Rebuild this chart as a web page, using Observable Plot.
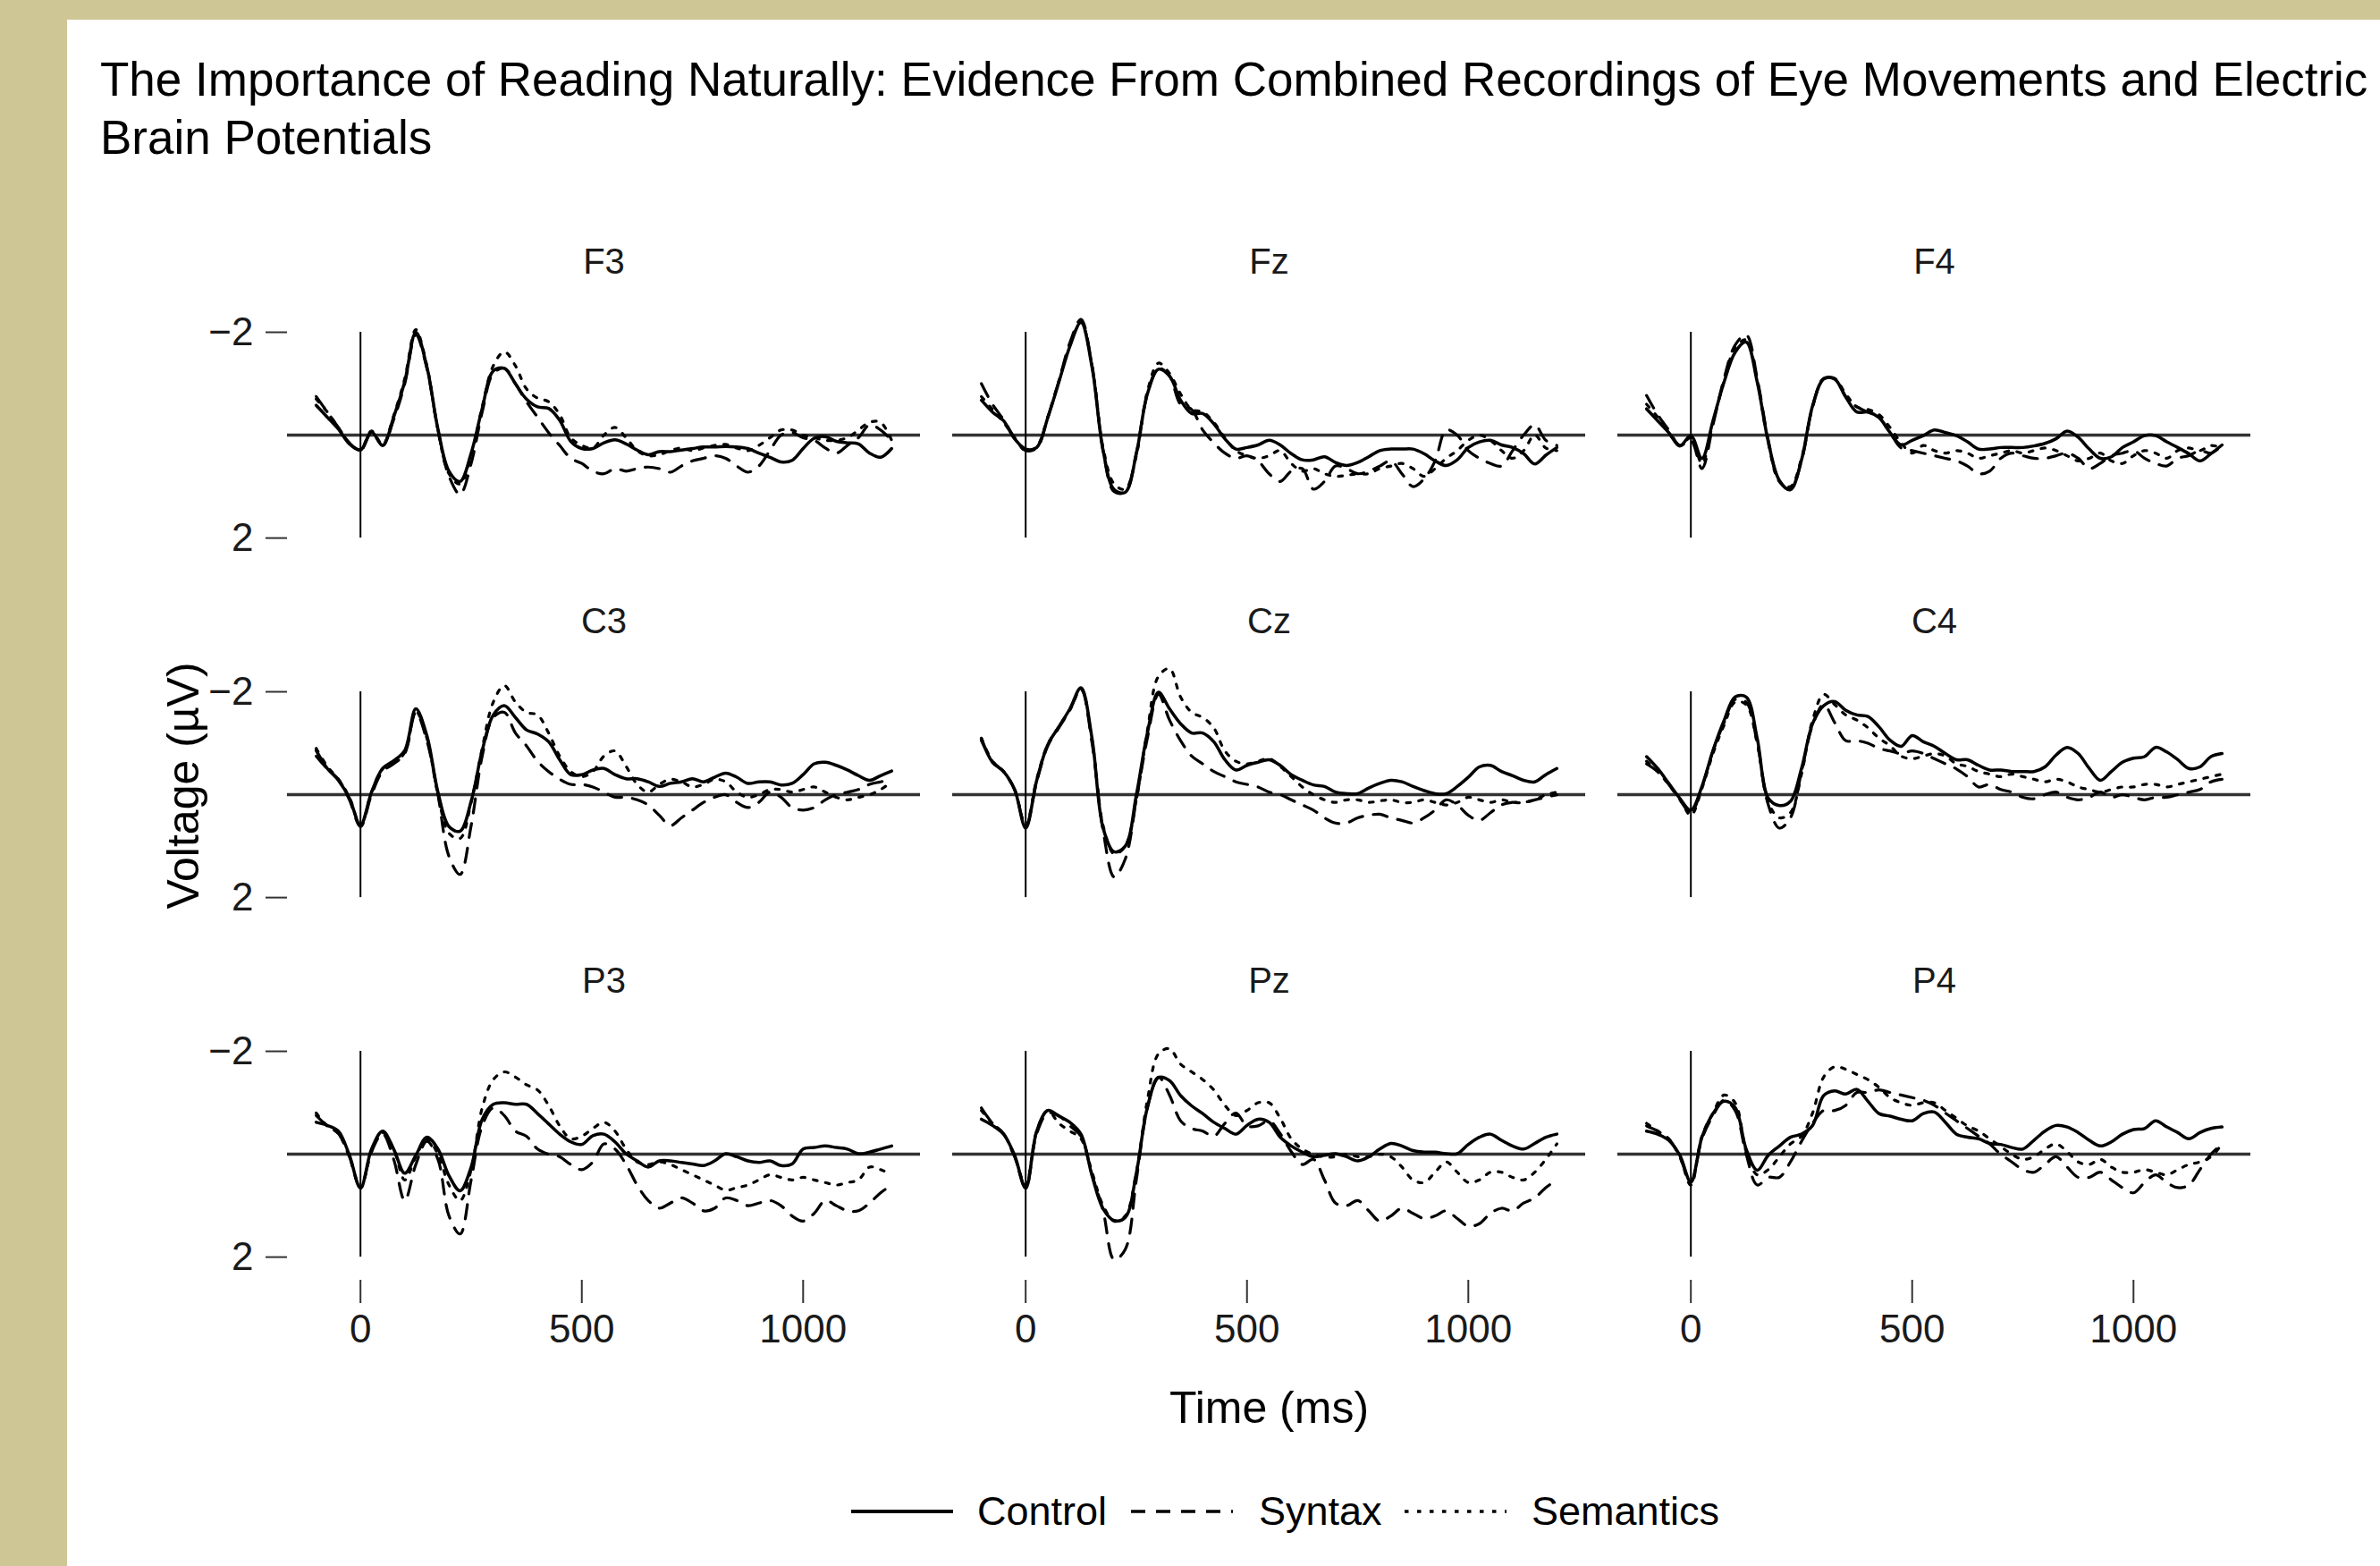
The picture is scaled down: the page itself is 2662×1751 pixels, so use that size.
<!DOCTYPE html>
<html><head><meta charset="utf-8">
<script src="https://cdn.jsdelivr.net/npm/d3@7"></script>
<script src="https://cdn.jsdelivr.net/npm/@observablehq/plot@0.6"></script>
<style>
html,body{margin:0;padding:0;}
body{width:2662px;height:1751px;background:#CFC696;position:relative;overflow:hidden;font-family:"Liberation Sans",Arial,Helvetica,sans-serif;}
#panel{position:absolute;left:75px;top:22px;right:0;bottom:0;background:#fff;}
#title{position:absolute;left:37px;top:34px;font-size:53px;line-height:65px;color:#000;white-space:nowrap;}
#chart{position:absolute;left:0;top:178px;}
#chart svg{max-width:none;overflow:visible;}
.lg{position:absolute;top:1638px;height:60px;line-height:60px;font-size:45px;color:#000;}
.lg svg{display:block;}
</style></head>
<body>
<div id="panel">
  <div id="title">The Importance of Reading Naturally: Evidence From Combined Recordings of Eye Movements and Electric<br>Brain Potentials</div>
  <div id="chart"></div>
  <div class="lg" style="left:877px;"><svg width="114" height="60"><line x1="0" y1="30" x2="114" y2="30" stroke="#000" stroke-width="4"/></svg></div>
  <div class="lg" style="left:1018px;">Control</div>
  <div class="lg" style="left:1190px;"><svg width="114" height="60"><line x1="0" y1="30" x2="114" y2="30" stroke="#000" stroke-width="3.5" stroke-dasharray="16,12"/></svg></div>
  <div class="lg" style="left:1333px;">Syntax</div>
  <div class="lg" style="left:1496px;"><svg width="114" height="60"><line x1="0" y1="30" x2="114" y2="30" stroke="#000" stroke-width="3.5" stroke-dasharray="4.5,9.5"/></svg></div>
  <div class="lg" style="left:1638px;">Semantics</div>
</div>
<script>
// sampling times (ms)
const times = [-100,-75,-50,-25,0,25,50,75,100,125,150,175,200,225,250,275,300,325,350,375,400,425,450,475,500,525,550,575,600,625,650,675,700,725,750,775,800,825,850,875,900,925,950,975,1000,1025,1050,1075,1100,1125,1150,1175,1200];
const electrodes = ["F3","Fz","F4","C3","Cz","C4","P3","Pz","P4"];
const conditions = ["Control","Syntax","Semantics"];
const xTicks = [0, 500, 1000];
const yTicks = [-2, 2];

// voltages (µV), one value per sampling time
const F3_control = [-0.58,-0.35,-0.12,0.17,0.29,-0.06,0.2,-0.35,-1.04,-2.0,-1.33,-0.12,0.7,0.9,0.35,-0.52,-1.25,-1.3,-1.0,-0.7,-0.55,-0.52,-0.29,0.12,0.26,0.26,0.15,0.09,0.17,0.29,0.38,0.32,0.32,0.29,0.26,0.23,0.23,0.22,0.23,0.26,0.35,0.43,0.52,0.49,0.26,0.06,0.03,0.12,0.15,0.17,0.35,0.43,0.26];
const F3_syntax = [-0.75,-0.45,-0.15,0.15,0.3,-0.05,0.2,-0.3,-1.0,-1.95,-1.3,-0.1,0.8,1.15,0.55,-0.45,-1.2,-1.3,-1.0,-0.65,-0.35,-0.05,0.2,0.45,0.55,0.7,0.75,0.65,0.7,0.65,0.62,0.65,0.72,0.6,0.5,0.45,0.4,0.45,0.6,0.72,0.6,0.3,0.0,-0.05,0.05,0.1,0.25,0.35,0.2,0.05,-0.2,-0.1,0.1];
const F3_semantics = [-0.7,-0.45,-0.15,0.15,0.28,-0.08,0.18,-0.38,-1.1,-2.05,-1.35,-0.1,0.75,0.95,0.4,-0.55,-1.35,-1.62,-1.35,-0.9,-0.72,-0.65,-0.4,0.05,0.2,0.25,0.0,-0.15,0.05,0.3,0.4,0.38,0.3,0.25,0.3,0.25,0.2,0.18,0.25,0.3,0.2,0.05,-0.1,-0.1,0.0,0.05,0.1,0.1,0.05,-0.1,-0.25,-0.25,0.1];

const Fz_control = [-0.68,-0.45,-0.28,0.07,0.27,0.24,-0.34,-1.03,-1.73,-2.19,-1.32,0.3,1.06,1.11,0.36,-0.8,-1.28,-1.15,-0.68,-0.42,-0.42,-0.22,0.07,0.27,0.24,0.19,0.1,0.19,0.36,0.48,0.48,0.42,0.53,0.59,0.53,0.42,0.3,0.27,0.27,0.27,0.36,0.5,0.59,0.48,0.24,0.13,0.1,0.19,0.24,0.36,0.56,0.39,0.24];
const Fz_syntax = [-1.0,-0.6,-0.3,0.05,0.3,0.25,-0.35,-1.05,-1.8,-2.25,-1.35,0.3,1.1,1.1,0.35,-0.8,-1.3,-1.15,-0.6,-0.5,-0.1,0.15,0.35,0.45,0.4,0.5,0.75,0.9,0.7,0.65,1.05,0.9,0.6,0.65,0.75,0.7,0.6,0.5,0.75,1.0,0.85,0.5,-0.1,0.0,0.3,0.45,0.55,0.6,0.3,0.0,-0.2,0.1,0.2];
const Fz_semantics = [-0.75,-0.5,-0.25,0.05,0.3,0.22,-0.35,-1.05,-1.75,-2.2,-1.35,0.25,0.95,1.05,0.4,-0.85,-1.4,-1.2,-0.8,-0.5,-0.45,-0.25,0.05,0.3,0.4,0.45,0.4,0.3,0.55,0.7,0.65,0.75,0.8,0.78,0.75,0.75,0.65,0.6,0.55,0.65,0.8,0.65,0.45,0.3,0.1,0.0,0.1,0.3,0.45,0.3,0.0,0.25,0.3];

const F4_control = [-0.51,-0.28,-0.05,0.21,0.01,0.45,-0.28,-1.03,-1.61,-1.81,-1.03,0.13,0.88,1.06,0.48,-0.57,-1.09,-1.09,-0.74,-0.45,-0.45,-0.34,-0.05,0.19,0.1,0.01,-0.1,-0.05,0.01,0.13,0.27,0.27,0.24,0.24,0.24,0.21,0.16,0.07,-0.08,0.04,0.27,0.45,0.42,0.24,0.13,0.01,0.01,0.13,0.24,0.36,0.5,0.36,0.19];
const F4_syntax = [-0.77,-0.4,-0.1,0.2,0.1,0.65,-0.2,-1.1,-1.75,-1.95,-1.1,0.1,0.9,1.05,0.5,-0.55,-1.1,-1.1,-0.75,-0.55,-0.45,-0.35,-0.05,0.25,0.3,0.35,0.4,0.45,0.5,0.6,0.75,0.7,0.45,0.35,0.4,0.45,0.45,0.4,0.35,0.45,0.65,0.55,0.4,0.35,0.3,0.45,0.55,0.6,0.45,0.4,0.3,0.35,0.2];
const F4_semantics = [-0.6,-0.35,-0.05,0.2,0.05,0.55,-0.25,-1.05,-1.7,-1.85,-1.05,0.15,0.9,1.0,0.45,-0.55,-1.1,-1.1,-0.8,-0.55,-0.5,-0.4,-0.15,0.15,0.35,0.2,0.3,0.35,0.3,0.35,0.45,0.4,0.35,0.3,0.35,0.3,0.25,0.3,0.4,0.5,0.45,0.35,0.5,0.55,0.4,0.3,0.35,0.45,0.3,0.25,0.3,0.2,0.25];

const C3_control = [-0.86,-0.51,-0.28,0.07,0.59,-0.05,-0.51,-0.66,-0.86,-1.67,-1.15,-0.05,0.62,0.71,0.13,-0.86,-1.55,-1.73,-1.5,-1.26,-1.18,-1.03,-0.68,-0.39,-0.39,-0.48,-0.51,-0.39,-0.31,-0.31,-0.25,-0.16,-0.22,-0.25,-0.31,-0.25,-0.34,-0.42,-0.34,-0.22,-0.25,-0.25,-0.19,-0.22,-0.39,-0.6,-0.63,-0.57,-0.48,-0.37,-0.28,-0.37,-0.46];
const C3_syntax = [-0.75,-0.5,-0.3,0.1,0.62,0.0,-0.45,-0.6,-0.8,-1.6,-1.05,0.0,1.2,1.55,0.6,-0.75,-1.5,-1.6,-1.2,-0.95,-0.65,-0.45,-0.3,-0.2,-0.2,-0.15,-0.05,0.05,0.05,0.1,0.2,0.4,0.6,0.45,0.3,0.15,0.05,0.0,0.15,0.25,0.15,-0.05,0.05,0.25,0.3,0.25,0.1,0.0,-0.05,-0.1,-0.2,-0.25,-0.3];
const C3_semantics = [-0.9,-0.55,-0.3,0.05,0.6,-0.05,-0.5,-0.62,-0.82,-1.62,-1.1,0.0,0.75,0.85,0.15,-0.9,-1.8,-2.12,-1.8,-1.6,-1.55,-1.2,-0.75,-0.45,-0.35,-0.45,-0.75,-0.85,-0.55,-0.2,-0.05,-0.2,-0.3,-0.25,-0.15,-0.2,-0.3,-0.25,-0.05,0.05,0.0,-0.1,-0.1,-0.05,-0.1,-0.15,-0.05,0.05,0.1,0.05,0.0,-0.1,-0.25];

const Cz_control = [-1.09,-0.63,-0.45,-0.1,0.65,-0.28,-0.97,-1.32,-1.67,-2.08,-1.09,0.65,1.11,1.0,0.01,-1.2,-1.99,-1.67,-1.38,-1.2,-1.2,-1.03,-0.68,-0.48,-0.57,-0.63,-0.68,-0.57,-0.39,-0.28,-0.19,-0.16,-0.05,-0.02,-0.02,-0.13,-0.22,-0.28,-0.25,-0.16,-0.08,-0.02,-0.02,-0.16,-0.34,-0.54,-0.57,-0.45,-0.37,-0.28,-0.25,-0.39,-0.51];
const Cz_syntax = [-1.05,-0.65,-0.45,-0.1,0.62,-0.25,-0.95,-1.3,-1.65,-2.05,-1.0,0.7,1.6,1.25,0.1,-1.1,-1.95,-1.45,-1.05,-0.75,-0.6,-0.45,-0.35,-0.25,-0.2,-0.15,-0.05,0.0,0.1,0.2,0.3,0.45,0.55,0.55,0.45,0.4,0.38,0.45,0.5,0.55,0.45,0.3,0.1,0.2,0.4,0.5,0.35,0.2,0.15,0.15,0.1,0.05,0.0];
const Cz_semantics = [-1.1,-0.65,-0.45,-0.1,0.6,-0.3,-0.98,-1.32,-1.65,-2.05,-1.05,0.6,1.15,1.0,0.1,-1.25,-2.3,-2.45,-1.9,-1.6,-1.5,-1.3,-0.85,-0.65,-0.6,-0.65,-0.7,-0.55,-0.35,-0.15,0.0,0.1,0.15,0.1,0.1,0.15,0.12,0.1,0.15,0.15,0.1,0.15,0.2,0.15,0.05,0.1,0.15,0.1,0.15,0.15,0.1,0.0,-0.05];

const C4_control = [-0.74,-0.51,-0.22,0.07,0.3,-0.16,-0.86,-1.44,-1.9,-1.9,-1.09,0.07,0.21,0.13,-0.51,-1.38,-1.73,-1.81,-1.64,-1.55,-1.52,-1.32,-1.06,-0.94,-1.15,-1.03,-0.94,-0.8,-0.68,-0.68,-0.57,-0.48,-0.48,-0.45,-0.45,-0.45,-0.54,-0.77,-0.92,-0.8,-0.51,-0.28,-0.45,-0.63,-0.71,-0.74,-0.92,-0.83,-0.68,-0.51,-0.54,-0.74,-0.8];
const C4_syntax = [-0.6,-0.45,-0.2,0.1,0.35,-0.15,-0.85,-1.4,-1.85,-1.8,-1.0,0.2,0.65,0.45,-0.45,-1.35,-1.75,-1.4,-1.05,-1.05,-1.0,-0.9,-0.85,-0.8,-0.85,-0.8,-0.7,-0.6,-0.5,-0.35,-0.15,-0.2,-0.1,-0.05,0.05,0.08,0.0,-0.05,0.05,0.1,0.05,-0.05,0.05,0.0,0.05,0.1,0.05,0.05,0.0,-0.05,-0.1,-0.25,-0.3];
const C4_semantics = [-0.65,-0.45,-0.2,0.08,0.4,-0.12,-0.8,-1.35,-1.8,-1.75,-1.0,0.15,0.45,0.35,-0.4,-1.45,-1.95,-1.75,-1.55,-1.45,-1.3,-1.1,-0.95,-0.75,-0.7,-0.75,-0.8,-0.75,-0.6,-0.55,-0.45,-0.4,-0.35,-0.4,-0.35,-0.3,-0.25,-0.3,-0.25,-0.15,-0.1,-0.05,-0.1,-0.15,-0.15,-0.2,-0.2,-0.15,-0.2,-0.25,-0.3,-0.35,-0.4];

const P3_control = [-0.62,-0.56,-0.45,0.02,0.66,-0.1,-0.45,-0.1,0.37,0.02,-0.33,-0.1,0.42,0.71,0.25,-0.68,-0.97,-1.0,-0.97,-0.97,-0.79,-0.59,-0.39,-0.24,-0.19,-0.36,-0.39,-0.24,-0.01,0.13,0.25,0.13,0.13,0.16,0.19,0.22,0.13,-0.01,0.05,0.13,0.16,0.13,0.22,0.19,-0.1,-0.13,-0.16,-0.13,-0.1,-0.01,-0.04,-0.1,-0.16];
const P3_syntax = [-0.75,-0.55,-0.4,0.05,0.65,-0.05,-0.4,0.1,0.9,0.2,-0.25,0.1,1.2,1.55,0.5,-0.55,-0.9,-0.75,-0.45,-0.35,-0.1,0.0,0.05,0.2,0.3,0.15,-0.2,-0.1,0.2,0.6,0.9,1.05,0.95,0.85,0.95,1.1,1.05,0.85,0.9,1.0,0.95,0.9,1.0,1.2,1.3,1.15,0.9,1.0,1.1,1.1,0.95,0.75,0.6];
const P3_semantics = [-0.8,-0.55,-0.4,0.05,0.65,-0.05,-0.42,-0.1,0.5,0.05,-0.3,0.0,0.6,0.9,0.3,-0.9,-1.45,-1.6,-1.5,-1.35,-1.25,-0.95,-0.55,-0.3,-0.35,-0.5,-0.62,-0.45,-0.1,0.15,0.2,0.15,0.2,0.3,0.4,0.5,0.6,0.7,0.65,0.6,0.5,0.4,0.45,0.5,0.45,0.5,0.55,0.6,0.55,0.5,0.25,0.3,0.4];

const Pz_control = [-0.68,-0.56,-0.39,0.02,0.66,-0.45,-0.85,-0.74,-0.62,-0.39,0.42,1.06,1.29,1.23,0.37,-0.91,-1.49,-1.43,-1.14,-0.94,-0.79,-0.62,-0.5,-0.39,-0.56,-0.68,-0.62,-0.33,-0.16,-0.04,0.05,0.02,-0.01,0.05,0.13,0.05,-0.1,-0.21,-0.16,-0.07,-0.04,-0.04,-0.01,-0.01,-0.19,-0.33,-0.39,-0.27,-0.16,-0.1,-0.21,-0.33,-0.39];
const Pz_syntax = [-0.9,-0.6,-0.4,0.05,0.65,-0.4,-0.8,-0.75,-0.55,-0.35,0.4,1.1,2.05,1.85,0.5,-0.9,-1.5,-1.15,-0.65,-0.5,-0.45,-0.35,-0.6,-0.8,-0.55,-0.55,-0.65,-0.4,-0.05,0.2,0.1,0.5,0.95,1.0,0.9,1.1,1.3,1.2,1.05,1.15,1.25,1.2,1.1,1.25,1.4,1.35,1.15,1.05,1.1,0.95,0.85,0.65,0.5];
const Pz_semantics = [-0.85,-0.6,-0.4,0.05,0.6,-0.45,-0.85,-0.6,-0.45,-0.3,0.35,1.0,1.3,1.2,0.35,-1.05,-1.95,-2.05,-1.75,-1.6,-1.45,-1.25,-0.95,-0.75,-0.85,-1.0,-1.0,-0.7,-0.3,-0.1,0.0,0.05,0.05,0.0,0.05,0.05,0.0,0.05,0.25,0.5,0.55,0.35,0.15,0.35,0.55,0.5,0.35,0.35,0.45,0.5,0.35,0.1,-0.2];

const P4_control = [-0.45,-0.39,-0.27,0.02,0.54,-0.33,-0.79,-1.03,-0.91,-0.1,0.31,0.02,-0.16,-0.33,-0.39,-0.56,-1.14,-1.23,-1.17,-1.26,-1.03,-0.79,-0.74,-0.68,-0.65,-0.79,-0.82,-0.62,-0.39,-0.33,-0.3,-0.21,-0.19,-0.13,-0.1,-0.27,-0.45,-0.56,-0.53,-0.42,-0.27,-0.16,-0.24,-0.39,-0.48,-0.5,-0.65,-0.53,-0.42,-0.3,-0.42,-0.5,-0.53];
const P4_syntax = [-0.55,-0.45,-0.3,0.05,0.55,-0.3,-0.75,-1.05,-0.85,0.0,0.6,0.45,0.45,0.15,-0.25,-0.6,-0.85,-0.85,-0.95,-1.2,-1.2,-1.25,-1.2,-1.15,-1.1,-1.05,-0.95,-0.8,-0.65,-0.5,-0.35,-0.2,0.0,0.15,0.3,0.35,0.2,0.05,0.25,0.45,0.45,0.35,0.5,0.65,0.75,0.55,0.4,0.55,0.65,0.6,0.3,0.0,-0.2];
const P4_semantics = [-0.6,-0.45,-0.3,0.05,0.6,-0.35,-0.8,-1.15,-1.0,-0.05,0.4,0.3,0.05,-0.2,-0.35,-0.8,-1.5,-1.7,-1.65,-1.55,-1.45,-1.3,-1.1,-1.0,-0.95,-1.0,-1.0,-0.85,-0.7,-0.55,-0.45,-0.3,-0.15,0.0,0.1,0.05,-0.1,-0.2,-0.05,0.15,0.2,0.1,0.25,0.35,0.35,0.3,0.35,0.4,0.3,0.2,0.15,0.05,-0.2];

const seriesByElectrode = {
  F3: [F3_control, F3_syntax, F3_semantics],
  Fz: [Fz_control, Fz_syntax, Fz_semantics],
  F4: [F4_control, F4_syntax, F4_semantics],
  C3: [C3_control, C3_syntax, C3_semantics],
  Cz: [Cz_control, Cz_syntax, Cz_semantics],
  C4: [C4_control, C4_syntax, C4_semantics],
  P3: [P3_control, P3_syntax, P3_semantics],
  Pz: [Pz_control, Pz_syntax, Pz_semantics],
  P4: [P4_control, P4_syntax, P4_semantics]
};

const rows = [];
electrodes.forEach((e, i) => {
  conditions.forEach((c, j) => {
    seriesByElectrode[e][j].forEach((v, k) => {
      rows.push({elec: e, cond: c, col: i % 3, row: Math.floor(i / 3), t: times[k], v});
    });
  });
});
const labels = electrodes.map((e, i) => ({name: e, col: i % 3, row: Math.floor(i / 3)}));
const font = "Liberation Sans, Arial, Helvetica, sans-serif";
const lineOpts = {x: "t", y: "v", fx: "col", fy: "row", z: "elec", stroke: "#000", curve: "catmull-rom", strokeLinejoin: "round"};

const chart = Plot.plot({
  width: 2587,
  height: 1450,
  marginLeft: 245,
  marginRight: 143,
  marginTop: 124,
  marginBottom: 219,
  style: {fontFamily: font, background: "transparent", overflow: "visible", color: "#000"},
  x: {domain: [-165, 1265]},
  y: {domain: [-2.8, 2.45], reverse: true},
  fx: {domain: [0, 1, 2], paddingInner: 0.0483, paddingOuter: 0, axis: null},
  fy: {domain: [0, 1, 2], paddingInner: 0.2497, paddingOuter: 0, axis: null},
  marks: [
    Plot.ruleY([0], {stroke: "#333", strokeWidth: 3.5}),
    Plot.ruleX([0], {y1: -2, y2: 2, stroke: "#000", strokeWidth: 2}),
    Plot.line(rows.filter(d => d.cond === "Control"), {...lineOpts, strokeWidth: 3.5}),
    Plot.line(rows.filter(d => d.cond === "Syntax"), {...lineOpts, strokeWidth: 3.2, strokeDasharray: "16,12"}),
    Plot.line(rows.filter(d => d.cond === "Semantics"), {...lineOpts, strokeWidth: 3.2, strokeDasharray: "4.5,9.5"}),
    Plot.text(labels, {fx: "col", fy: "row", text: "name", frameAnchor: "top", dy: -32, fontSize: 40, lineAnchor: "middle", fill: "#1a1a1a"}),
    Plot.axisY({ticks: yTicks, tickSize: 24, tickPadding: 14, fontSize: 44, label: null, facetAnchor: "left", strokeWidth: 2, stroke: "#333", fill: "#1a1a1a", tickFormat: d => (d < 0 ? "\u2212" : "") + Math.abs(d)}),
    Plot.axisX({ticks: xTicks, tickSize: 26, tickPadding: 12, fontSize: 44, label: null, facetAnchor: "bottom", strokeWidth: 2, stroke: "#333", fill: "#1a1a1a", tickFormat: d => String(d)}),
    Plot.text([{col: 0, row: 1, s: "Voltage (µV)"}], {fx: "col", fy: "row", text: "s", frameAnchor: "left", dx: -116, rotate: -90, textAnchor: "middle", lineAnchor: "middle", fontSize: 50, fill: "#000"}),
    Plot.text([{col: 1, row: 2, s: "Time (ms)"}], {fx: "col", fy: "row", text: "s", frameAnchor: "bottom", dy: 143, textAnchor: "middle", lineAnchor: "middle", fontSize: 50, fill: "#000"})
  ]
});
document.getElementById("chart").appendChild(chart);
</script>
</body></html>
